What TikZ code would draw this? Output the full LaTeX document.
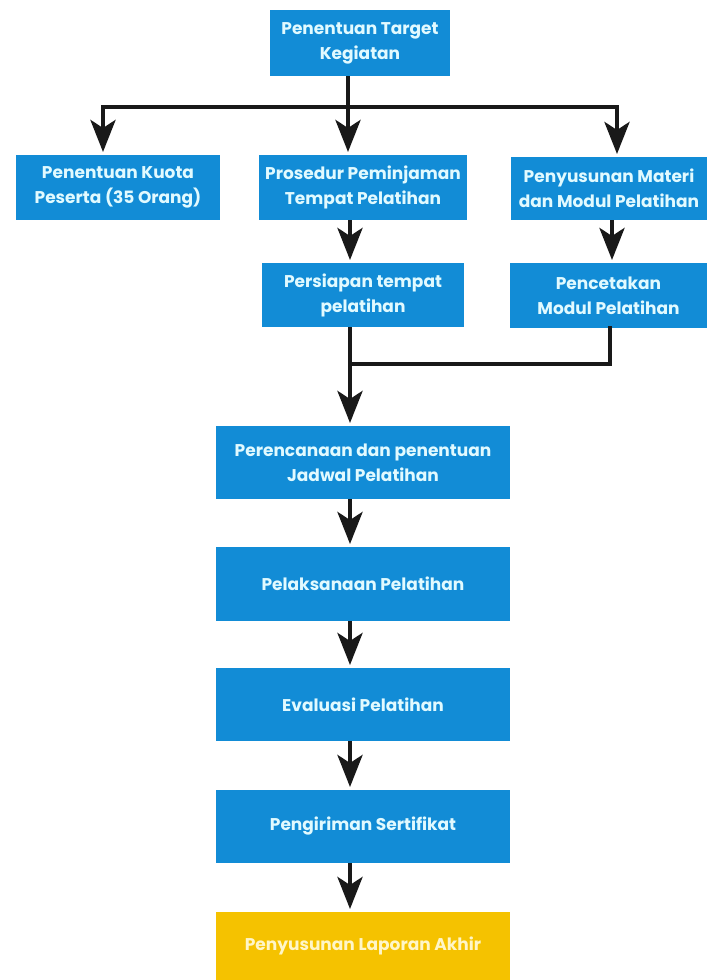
\documentclass[tikz,border=0pt]{standalone}
\usepackage{fontspec}
\setmainfont{Poppins}
\usetikzlibrary{arrows.meta}
\definecolor{boxblue}{RGB}{18,140,214}
\definecolor{boxyellow}{RGB}{245,194,0}
\definecolor{txtblue}{RGB}{225,250,255}
\definecolor{txtyellow}{RGB}{255,246,200}
\tikzset{
  box/.style={rectangle, fill=boxblue, text=txtblue, align=center, inner sep=0pt, outer sep=0pt,
    font=\fontsize{17}{25}\selectfont\bfseries},
  ybox/.style={box, fill=boxyellow, text=txtyellow},
  conn/.style={line width=4.5pt, black!90},
  arr/.style={conn, -{Stealth[length=32pt, width=25pt, inset=8pt]}, shorten >=3pt},
}
\begin{document}
\begin{tikzpicture}[x=1pt, y=-1pt]
\useasboundingbox[fill=white] (0,0) rectangle (707,980);
% nodes
\node[box, minimum width=180pt, minimum height=66pt] (top) at (360,43) {Penentuan Target\\Kegiatan};
\node[box, minimum width=204pt, minimum height=65pt] (kuota) at (118,187.5) {Penentuan Kuota\\Peserta (35 Orang)};
\node[box, minimum width=208pt, minimum height=65pt] (prosedur) at (363,187.5) {Prosedur Peminjaman\\Tempat Pelatihan};
\node[box, minimum width=196pt, minimum height=63pt] (materi) at (609,188.5) {Penyusunan Materi\\dan Modul Pelatihan};
\node[box, minimum width=202pt, minimum height=64pt] (persiapan) at (363,295) {Persiapan tempat\\pelatihan};
\node[box, minimum width=197pt, minimum height=65pt] (cetak) at (608.5,295.5) {Pencetakan\\Modul Pelatihan};
\node[box, minimum width=294pt, minimum height=73pt] (jadwal) at (363,462.5) {Perencanaan dan penentuan\\Jadwal Pelatihan};
\node[box, minimum width=294pt, minimum height=74pt] (laksana) at (363,584) {Pelaksanaan Pelatihan};
\node[box, minimum width=294pt, minimum height=73pt] (evaluasi) at (363,704.5) {Evaluasi Pelatihan};
\node[box, minimum width=294pt, minimum height=73pt] (kirim) at (363,826.5) {Pengiriman Sertifikat};
\node[ybox, minimum width=294pt, minimum height=68pt] (laporan) at (363,946) {Penyusunan Laporan Akhir};
% junctions
\coordinate (jc) at (348,107);
\coordinate (jl) at (103,107);
\coordinate (jr) at (617,107);
\coordinate (ml) at (350,364);
\coordinate (mr) at (610,364);
\coordinate (cx) at (350,0);
\coordinate (rx) at (612,0);
% top branch
\draw[conn] (top.south -| jc) -- (jc);
\draw[conn, line cap=rect] (jl) -- (jr);
\draw[arr] (jl) -- (kuota.north -| jl);
\draw[arr] (jc) -- (prosedur.north -| jc);
\draw[arr] (jr) -- (materi.north -| jr);
% second row to third
\draw[arr] (prosedur.south -| cx) -- (persiapan.north -| cx);
\draw[arr] (materi.south -| rx) -- (cetak.north -| rx);
% merge
\draw[conn] (persiapan.south -| ml) -- (ml);
\draw[conn, line cap=rect] (cetak.south -| mr) -- (mr) -- (ml);
\draw[arr] (ml) -- (jadwal.north -| ml);
% chain
\draw[arr] (jadwal.south -| cx) -- (laksana.north -| cx);
\draw[arr] (laksana.south -| cx) -- (evaluasi.north -| cx);
\draw[arr] (evaluasi.south -| cx) -- (kirim.north -| cx);
\draw[arr] (kirim.south -| cx) -- (laporan.north -| cx);
\end{tikzpicture}
\end{document}
